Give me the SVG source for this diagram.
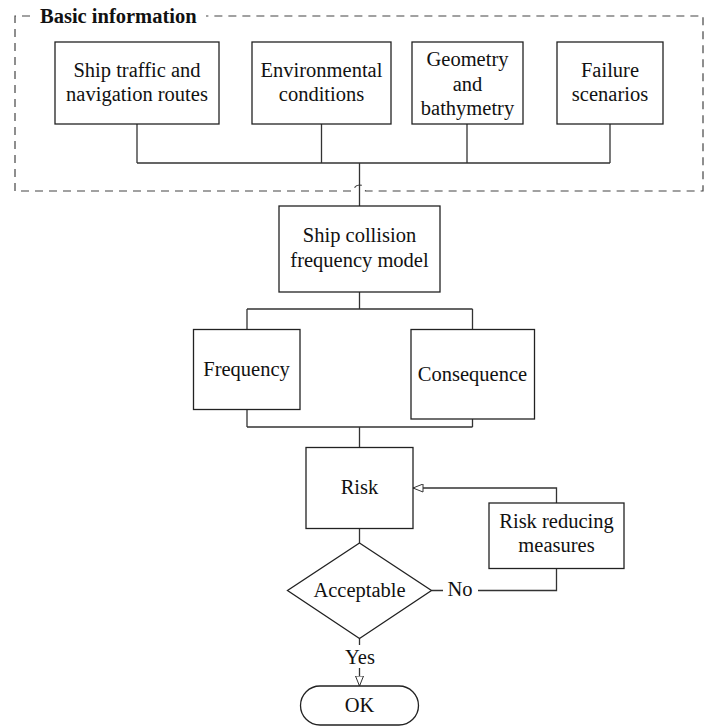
<svg xmlns="http://www.w3.org/2000/svg" width="712" height="726" viewBox="0 0 712 726">
<style>
.box{fill:#fff;stroke:#222;stroke-width:1.3}
.ln{fill:none;stroke:#333;stroke-width:1.3}
.dash{fill:none;stroke:#444;stroke-width:1.2;stroke-dasharray:8 6}
.t{font-family:"Liberation Serif","Times New Roman",serif;font-size:20.5px;fill:#111;text-anchor:middle}
.b{font-family:"Liberation Serif","Times New Roman",serif;font-size:20.5px;font-weight:bold;fill:#111}
</style>
<defs>
<marker id="tri" viewBox="0 0 11 9" refX="10.5" refY="4.5" markerWidth="11" markerHeight="9" orient="auto" markerUnits="userSpaceOnUse">
<path d="M0.5,0.5 L10.5,4.5 L0.5,8.5 Z" fill="#fff" stroke="#333" stroke-width="1"/>
</marker>
</defs>
<rect width="712" height="726" fill="#fff"/>
<g id="basic-information">
<path class="dash" d="M30,16 H15 V191 H353.5 A6,6 0 0 1 365.5,191 H703 V16 H206"/>
<text class="b" x="40" y="23">Basic information</text>
</g>
<g id="connectors">
<path class="ln" d="M137,124 V163 M321.5,124 V163 M467,124 V163 M610,124 V163 M137,163 H610 M359.5,163 V206"/>
<path class="ln" d="M359.5,292 V309 M247,309 H472.5 M247,309 V329 M472.5,309 V329"/>
<path class="ln" d="M247,409 V427 M472.5,419 V427 M247,427 H472.5 M359.5,427 V447"/>
<path class="ln" d="M359.5,528 V543"/>
<path class="ln" d="M431.5,590.5 H443 M478,590.5 H556.5 V568"/>
<path class="ln" d="M556.5,503 V488 H413" marker-end="url(#tri)"/>
<path class="ln" d="M359.5,638.5 V645"/>
<path class="ln" d="M359.5,668 V686" marker-end="url(#tri)"/>
<text class="t" x="460" y="596">No</text>
<text class="t" x="360" y="664">Yes</text>
</g>
<g id="ship-traffic">
<rect class="box" x="55" y="42" width="164" height="82"/>
<text class="t" x="137" y="76.5">Ship traffic and</text>
<text class="t" x="137" y="100.5">navigation routes</text>
</g>
<g id="environmental">
<rect class="box" x="252" y="42" width="139" height="82"/>
<text class="t" x="321.5" y="76.5">Environmental</text>
<text class="t" x="321.5" y="100.5">conditions</text>
</g>
<g id="geometry">
<rect class="box" x="412" y="42" width="111" height="82"/>
<text class="t" x="467.5" y="65.5">Geometry</text>
<text class="t" x="467.5" y="90.5">and</text>
<text class="t" x="467.5" y="115">bathymetry</text>
</g>
<g id="failure">
<rect class="box" x="557" y="42" width="106" height="82"/>
<text class="t" x="610" y="76.5">Failure</text>
<text class="t" x="610" y="100.5">scenarios</text>
</g>
<g id="collision-model">
<rect class="box" x="279" y="206" width="161" height="86"/>
<text class="t" x="359.5" y="242">Ship collision</text>
<text class="t" x="359.5" y="266.5">frequency model</text>
</g>
<g id="frequency">
<rect class="box" x="193.5" y="329.5" width="106.5" height="80"/>
<text class="t" x="246.5" y="376">Frequency</text>
</g>
<g id="consequence">
<rect class="box" x="411" y="329.5" width="123.5" height="89.5"/>
<text class="t" x="472.5" y="380.5">Consequence</text>
</g>
<g id="risk">
<rect class="box" x="306" y="447.5" width="107" height="81"/>
<text class="t" x="359.5" y="494">Risk</text>
</g>
<g id="risk-reducing">
<rect class="box" x="489" y="503" width="135" height="65.5"/>
<text class="t" x="556.5" y="527.5">Risk reducing</text>
<text class="t" x="556.5" y="552">measures</text>
</g>
<g id="acceptable">
<path class="box" d="M359.5,543 L431.5,590.5 L359.5,638.5 L287.5,590.5 Z"/>
<text class="t" x="359.5" y="597">Acceptable</text>
</g>
<g id="ok">
<rect class="box" x="300.5" y="686" width="118" height="39" rx="19.5"/>
<text class="t" x="359.5" y="711.5">OK</text>
</g>
</svg>
